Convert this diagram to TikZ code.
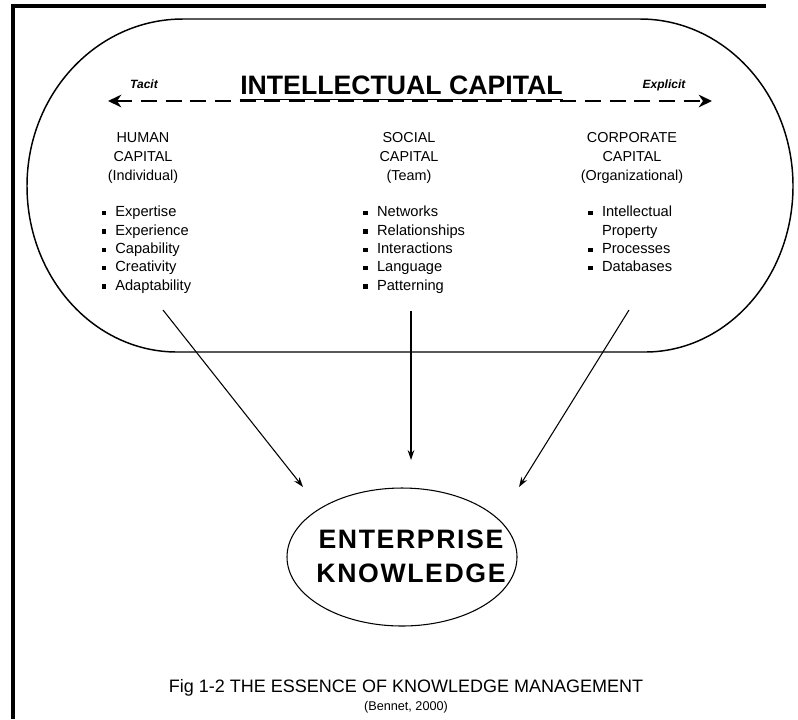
\documentclass[tikz,border=0pt]{standalone}
\usepackage{fontspec}
\setmainfont{Liberation Sans}
\newfontfamily\ekfont[LetterSpace=6]{Liberation Sans}
\usetikzlibrary{arrows.meta,shapes.geometric}
\newcommand\puce{\makebox[10.3pt][l]{\raisebox{1.3pt}{\rule{3.2pt}{3.2pt}}}}

\begin{document}
\begin{tikzpicture}[x=0.75pt,y=-0.75pt]
\tikzset{entete/.style={anchor=north, align=center, inner sep=0pt, font=\fontsize{10.8}{14.25}\selectfont},
liste/.style={anchor=north west, align=left, inner sep=0pt, font=\fontsize{11}{13.75}\selectfont},
sens/.style={anchor=base, inner sep=0pt, font=\fontsize{9}{10}\selectfont\bfseries\itshape},
fleche/.style={-{Stealth[length=7.5pt,width=5pt]}, line width=0.8pt}}
\useasboundingbox (0,0) rectangle (798,719);
\draw[line width=3pt] (13,719) -- (13,6) -- (766,6);
\draw[line width=1.1pt] (183,19) -- (640,19) .. controls (724.5,19) and (793,93.8) .. (793,186)
  .. controls (793,277.7) and (726.7,352) .. (645,352) -- (177,352)
  .. controls (94.2,352) and (27,277.7) .. (27,186) .. controls (27,93.8) and (96.8,19) .. (183,19) -- cycle;
\node[anchor=base, inner sep=0pt, font=\fontsize{20}{24}\selectfont\bfseries] (titre) at (401.5,94) {INTELLECTUAL CAPITAL};
\draw[line width=1.2pt] ([yshift=-4pt]titre.base west) -- ([yshift=-4pt]titre.base east);
\node[sens] (tacit) at (144,88) {Tacit};
\node[sens] (explicit) at (664,88) {Explicit};
\coordinate (gauche) at (108,101);
\coordinate (droite) at (712,101);
\draw[{Stealth[length=10pt,width=9.5pt]}-{Stealth[length=10pt,width=9.5pt]}, line width=1.5pt, dash pattern=on 12pt off 6.5pt] (gauche) -- (droite);
\node[entete] (humain) at (143,132.5) {HUMAN\\CAPITAL\\(Individual)};
\node[entete] (social) at (409,132.5) {SOCIAL\\CAPITAL\\(Team)};
\node[entete] (corpo) at (632,132.5) {CORPORATE\\CAPITAL\\(Organizational)};
\node[liste] (lhumain) at (101.3,206) {\puce Expertise\\\puce Experience\\\puce Capability\\\puce Creativity\\\puce Adaptability};
\node[liste] (lsocial) at (363,206) {\puce Networks\\\puce Relationships\\\puce Interactions\\\puce Language\\\puce Patterning};
\node[liste] (lcorpo) at (588,206) {\puce Intellectual\\\hspace{10.3pt}Property\\\puce Processes\\\puce Databases};
\node[draw, ellipse, line width=0.8pt, minimum width=172.5pt, minimum height=103.5pt, inner sep=0pt] (bulle) at (402,557) {};
\node[align=center, inner sep=0pt, font=\ekfont\bfseries\fontsize{20}{25.5}\selectfont] (ek) at (411,556) {ENTERPRISE\\KNOWLEDGE};
\coordinate (h0) at (163,310);
\coordinate (h1) at (303,487);
\coordinate (s0) at (411,311);
\coordinate (s1) at (411,460);
\coordinate (c0) at (629,310);
\coordinate (c1) at (519,487);
\draw[fleche] (h0) -- (h1);
\draw[fleche] (s0) -- (s1);
\draw[fleche] (c0) -- (c1);
\node[anchor=base, inner sep=0pt, font=\fontsize{13.5}{16}\selectfont] (legende) at (406,692) {Fig 1-2 THE ESSENCE OF KNOWLEDGE MANAGEMENT};
\node[anchor=base, inner sep=0pt, font=\fontsize{9.5}{11}\selectfont] (source) at (406,710) {(Bennet, 2000)};
\end{tikzpicture}
\end{document}
